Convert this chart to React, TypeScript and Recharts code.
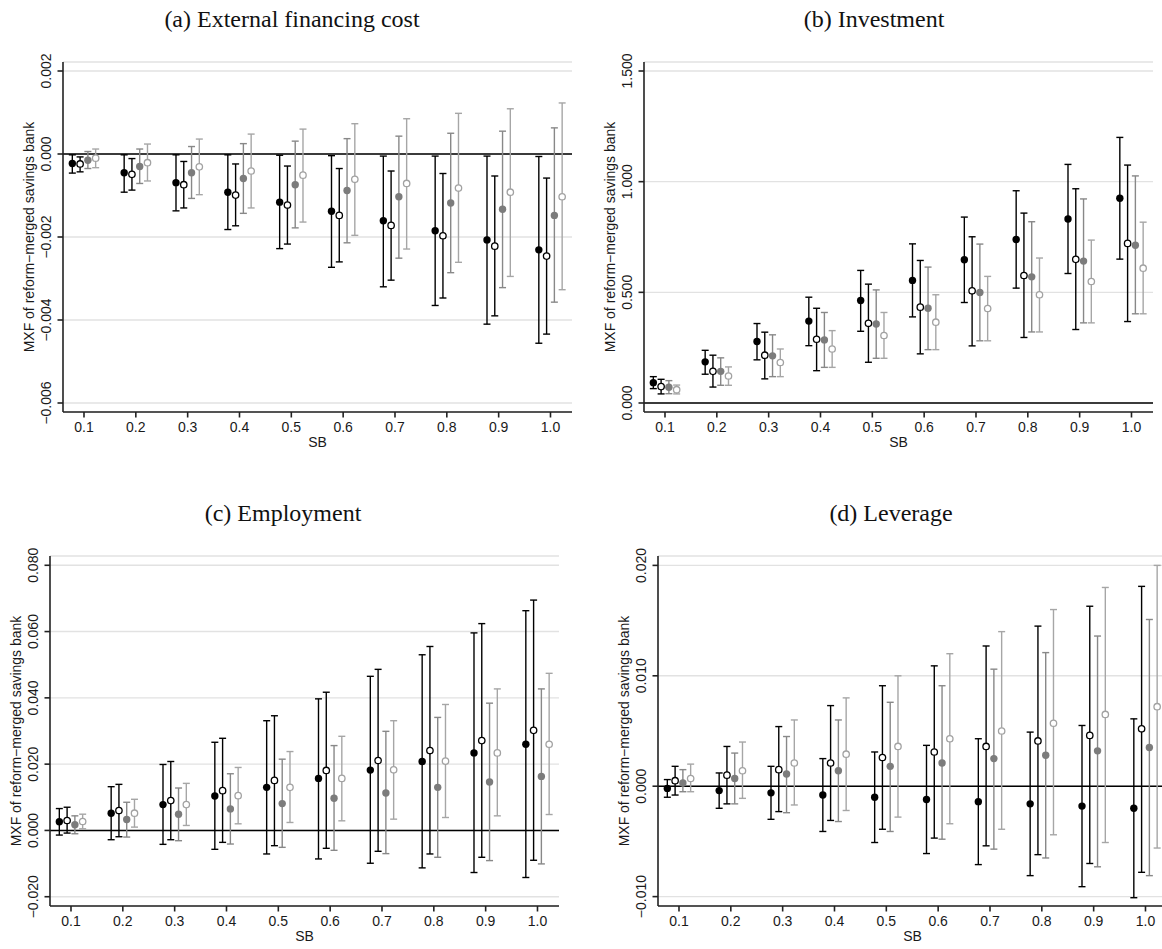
import React from 'react';
import { ComposedChart, Scatter, ErrorBar, XAxis, YAxis, CartesianGrid, ReferenceLine } from 'recharts';

// SB share categories on the x axis
const SB = [0.1, 0.2, 0.3, 0.4, 0.5, 0.6, 0.7, 0.8, 0.9, 1.0];
// horizontal dodge of the four estimates around each SB value
const OFFSETS = [-0.0225, -0.0075, 0.0075, 0.0225];

// (a) External financing cost: rows = black filled, black hollow, gray filled, light hollow
const costEst = [
    [-0.00023, -0.00045, -0.00069, -0.00092, -0.00116, -0.00138, -0.00161, -0.00185, -0.00207, -0.00231],
    [-0.00024, -0.00049, -0.00074, -0.00099, -0.00123, -0.00148, -0.00172, -0.00197, -0.00222, -0.00246],
    [-0.00015, -0.0003, -0.00045, -0.00059, -0.00074, -0.00088, -0.00103, -0.00118, -0.00133, -0.00148],
    [-0.0001, -0.00021, -0.00031, -0.00041, -0.00051, -0.00061, -0.00071, -0.00082, -0.00092, -0.00103],
];
const costLo = [
    [-0.00046, -0.00092, -0.00137, -0.00182, -0.00228, -0.00273, -0.0032, -0.00365, -0.0041, -0.00456],
    [-0.00043, -0.00087, -0.0013, -0.00173, -0.00217, -0.0026, -0.00304, -0.00347, -0.0039, -0.00434],
    [-0.00035, -0.00071, -0.00107, -0.00143, -0.00178, -0.00214, -0.00251, -0.00286, -0.00322, -0.00357],
    [-0.00033, -0.00065, -0.00098, -0.0013, -0.00164, -0.00196, -0.00229, -0.00261, -0.00295, -0.00327],
];
const costHi = [
    [-0.00002, -0.00002, -0.00002, -0.00002, -0.00003, -0.00004, -0.00005, -0.00005, -0.00005, -0.00006],
    [-0.00007, -0.00011, -0.00018, -0.00024, -0.00029, -0.00035, -0.00041, -0.00047, -0.00053, -0.00058],
    [0.00006, 0.00012, 0.00018, 0.00025, 0.00031, 0.00037, 0.00043, 0.0005, 0.00055, 0.00063],
    [0.00012, 0.00024, 0.00036, 0.00048, 0.0006, 0.00073, 0.00085, 0.00098, 0.00109, 0.00123],
];

// (b) Investment
const invEst = [
    [0.092, 0.186, 0.278, 0.37, 0.463, 0.554, 0.647, 0.739, 0.831, 0.925],
    [0.074, 0.143, 0.216, 0.288, 0.36, 0.433, 0.507, 0.576, 0.649, 0.721],
    [0.071, 0.143, 0.213, 0.285, 0.357, 0.428, 0.499, 0.57, 0.641, 0.713],
    [0.06, 0.122, 0.183, 0.244, 0.305, 0.365, 0.427, 0.489, 0.549, 0.609],
];
const invLo = [
    [0.065, 0.13, 0.195, 0.259, 0.324, 0.389, 0.454, 0.519, 0.585, 0.65],
    [0.041, 0.072, 0.109, 0.146, 0.184, 0.222, 0.258, 0.296, 0.332, 0.368],
    [0.042, 0.08, 0.119, 0.161, 0.202, 0.241, 0.281, 0.321, 0.362, 0.403],
    [0.041, 0.08, 0.119, 0.161, 0.202, 0.241, 0.281, 0.321, 0.362, 0.403],
];
const invHi = [
    [0.119, 0.238, 0.359, 0.478, 0.599, 0.719, 0.84, 0.959, 1.078, 1.2],
    [0.107, 0.216, 0.32, 0.428, 0.537, 0.644, 0.751, 0.858, 0.968, 1.075],
    [0.101, 0.204, 0.308, 0.409, 0.511, 0.614, 0.718, 0.819, 0.922, 1.026],
    [0.081, 0.163, 0.244, 0.327, 0.409, 0.489, 0.572, 0.655, 0.736, 0.817],
];

// (c) Employment
const empEst = [
    [0.0026, 0.0052, 0.0078, 0.0104, 0.013, 0.0157, 0.0182, 0.0208, 0.0234, 0.026],
    [0.003, 0.006, 0.009, 0.012, 0.0151, 0.0181, 0.0211, 0.0241, 0.0271, 0.0302],
    [0.0017, 0.0033, 0.0049, 0.0065, 0.0081, 0.0097, 0.0113, 0.013, 0.0146, 0.0163],
    [0.0027, 0.0052, 0.0078, 0.0105, 0.013, 0.0157, 0.0183, 0.0209, 0.0234, 0.026],
];
const empLo = [
    [-0.0014, -0.0028, -0.0042, -0.0057, -0.0071, -0.0086, -0.0099, -0.0113, -0.0127, -0.0142],
    [-0.0008, -0.0019, -0.0028, -0.0036, -0.0046, -0.0054, -0.0063, -0.0071, -0.0081, -0.009],
    [-0.001, -0.002, -0.0031, -0.0041, -0.0051, -0.006, -0.007, -0.0081, -0.0091, -0.0101],
    [0.0005, 0.001, 0.0015, 0.002, 0.0024, 0.0029, 0.0034, 0.0039, 0.0044, 0.0048],
];
const empHi = [
    [0.0066, 0.0132, 0.0199, 0.0266, 0.0331, 0.0397, 0.0465, 0.053, 0.0596, 0.0663],
    [0.007, 0.0139, 0.0208, 0.0278, 0.0346, 0.0417, 0.0486, 0.0555, 0.0624, 0.0695],
    [0.0044, 0.0085, 0.0128, 0.0171, 0.0215, 0.0256, 0.0299, 0.0341, 0.0384, 0.0427],
    [0.0049, 0.0094, 0.0142, 0.019, 0.0238, 0.0284, 0.0331, 0.038, 0.0427, 0.0474],
];

// (d) Leverage
const levEst = [
    [-0.0002, -0.0004, -0.0006, -0.0008, -0.001, -0.0012, -0.0014, -0.0016, -0.0018, -0.002],
    [0.0005, 0.001, 0.0015, 0.0021, 0.0026, 0.0031, 0.0036, 0.0041, 0.0046, 0.0052],
    [0.0003, 0.0007, 0.0011, 0.0014, 0.0018, 0.0021, 0.0025, 0.0028, 0.0032, 0.0035],
    [0.0007, 0.0014, 0.0021, 0.0029, 0.0036, 0.0043, 0.005, 0.0057, 0.0065, 0.0072],
];
const levLo = [
    [-0.001, -0.002, -0.003, -0.0041, -0.0051, -0.0061, -0.0071, -0.0081, -0.0091, -0.0101],
    [-0.0008, -0.0016, -0.0023, -0.0031, -0.0039, -0.0047, -0.0054, -0.0062, -0.007, -0.0078],
    [-0.0005, -0.0016, -0.0024, -0.0032, -0.0041, -0.0048, -0.0057, -0.0065, -0.0073, -0.0081],
    [-0.0005, -0.0011, -0.0017, -0.0022, -0.0028, -0.0034, -0.0039, -0.0044, -0.0051, -0.0056],
];
const levHi = [
    [0.0006, 0.0012, 0.0018, 0.0025, 0.0031, 0.0037, 0.0043, 0.0049, 0.0055, 0.0061],
    [0.0018, 0.0036, 0.0054, 0.0073, 0.0091, 0.0109, 0.0127, 0.0145, 0.0163, 0.0181],
    [0.0015, 0.003, 0.0045, 0.006, 0.0076, 0.0091, 0.0106, 0.0121, 0.0136, 0.0151],
    [0.002, 0.004, 0.006, 0.008, 0.01, 0.012, 0.014, 0.016, 0.018, 0.02],
];

const costTicks = [-0.006, -0.004, -0.002, 0, 0.002];
const invTicks = [0, 0.5, 1.0, 1.5];
const empTicks = [-0.02, 0, 0.02, 0.04, 0.06, 0.08];
const levTicks = [-0.01, 0, 0.01, 0.02];

const X_DOMAIN = [0.0595, 1.0415];
const SANS = '"Liberation Sans", Arial, sans-serif';
const SERIF = '"Liberation Serif", "Times New Roman", serif';
const INK = '#1a1a1a';
const TOP = 22;
const BOX_H = 350;

const MARKS = [
    { fill: '#000000', stroke: '#000000', bar: '#000000', r: 3.7, sw: 0 },
    { fill: '#ffffff', stroke: '#000000', bar: '#000000', r: 3.2, sw: 1.3 },
    { fill: '#7c7c7c', stroke: '#7c7c7c', bar: '#888888', r: 3.7, sw: 0 },
    { fill: '#ffffff', stroke: '#a2a2a2', bar: '#a6a6a6', r: 3.2, sw: 1.3 },
];

const fmt3 = (v: number) => {
    const s = Math.abs(v).toFixed(3);
    return v < -1e-9 ? '\u2212' + s : s;
};

const XTick = (props: any) => (
    <text x={props.x} y={props.y} textAnchor="middle" dominantBaseline="central" fontSize={14} fontFamily={SANS} fill={INK}>
        {Number(props.payload.value).toFixed(1)}
    </text>
);

const YTick = (props: any) => (
    <text
        x={props.x}
        y={props.y}
        transform={`rotate(-90, ${props.x}, ${props.y})`}
        textAnchor="middle"
        dominantBaseline="central"
        fontSize={14}
        fontFamily={SANS}
        fill={INK}
    >
        {fmt3(props.payload.value)}
    </text>
);

interface PanelProps {
    left: number;
    top: number;
    width: number;
    height: number;
    yWidth: number;
    marginRight: number;
    title: string;
    titleX: number;
    domain: number[];
    ticks: number[];
    est: number[][];
    lo: number[][];
    hi: number[][];
}

function Panel({ left, top, width, height, yWidth, marginRight, title, titleX, domain, ticks, est, lo, hi }: PanelProps) {
    const boxW = width - yWidth - marginRight;
    const xHeight = height - TOP - BOX_H;
    const series = est.map((row, s) =>
        SB.map((sb, i) => ({ x: sb + OFFSETS[s], y: row[i], err: [row[i] - lo[s][i], hi[s][i] - row[i]] }))
    );

    const yLabel = () => (
        <text
            x={yWidth - 34}
            y={TOP + BOX_H / 2}
            transform={`rotate(-90, ${yWidth - 34}, ${TOP + BOX_H / 2})`}
            textAnchor="middle"
            dominantBaseline="central"
            fontSize={14}
            fontFamily={SANS}
            fill={INK}
        >
            MXF of reform−merged savings bank
        </text>
    );
    const xLabel = () => (
        <text x={yWidth + boxW / 2} y={TOP + BOX_H + 29.5} textAnchor="middle" dominantBaseline="central" fontSize={14} fontFamily={SANS} fill={INK}>
            SB
        </text>
    );

    return (
        <div style={{ position: 'absolute', left, top, width, height }}>
            <div
                style={{
                    position: 'absolute',
                    left: titleX - 250,
                    width: 500,
                    top: -36,
                    height: 30,
                    lineHeight: '30px',
                    textAlign: 'center',
                    fontFamily: SERIF,
                    fontSize: 24,
                    color: '#111',
                }}
            >
                {title}
            </div>
            <ComposedChart width={width} height={height} margin={{ top: TOP, right: marginRight, bottom: 0, left: 0 }}>
                <CartesianGrid vertical={false} stroke="#e2e2e2" strokeWidth={1.4} />
                <XAxis
                    dataKey="x"
                    type="number"
                    domain={X_DOMAIN}
                    ticks={SB}
                    interval={0}
                    allowDataOverflow
                    height={xHeight}
                    tickSize={5.5}
                    tickMargin={9.2}
                    tick={<XTick />}
                    stroke="#222"
                    strokeWidth={1.6}
                    label={xLabel}
                />
                <XAxis xAxisId="top" orientation="top" dataKey="x" type="number" domain={X_DOMAIN} allowDataOverflow height={0} tick={false} tickLine={false} stroke="#222" strokeWidth={1.6} />
                <YAxis
                    dataKey="y"
                    type="number"
                    domain={domain}
                    ticks={ticks}
                    interval={0}
                    allowDataOverflow
                    width={yWidth}
                    tickSize={5.5}
                    tickMargin={11.5}
                    tick={<YTick />}
                    stroke="#222"
                    strokeWidth={1.6}
                    label={yLabel}
                />
                <YAxis yAxisId="right" orientation="right" type="number" domain={domain} allowDataOverflow width={0} tick={false} tickLine={false} stroke="#222" strokeWidth={1.6} />
                <ReferenceLine y={0} stroke="#000" strokeWidth={1.5} />
                {series.map((data, s) => {
                    const m = MARKS[s];
                    return (
                        <Scatter
                            key={s}
                            data={data}
                            dataKey="y"
                            isAnimationActive={false}
                            shape={(p: any) => <circle cx={p.cx} cy={p.cy} r={m.r} fill={m.fill} stroke={m.stroke} strokeWidth={m.sw} />}
                        >
                            <ErrorBar dataKey="err" direction="y" width={3.5} stroke={m.bar} strokeWidth={1.4} isAnimationActive={false} />
                        </Scatter>
                    );
                })}
            </ComposedChart>
        </div>
    );
}

export default function App() {
    return (
        <div style={{ position: 'absolute', left: 0, top: 0, width: 1162, height: 949, overflow: 'hidden', background: '#fff' }}>
            <Panel
                left={0} top={40} width={580} height={420} yWidth={63} marginRight={8}
                title="(a) External financing cost" titleX={292}
                domain={[-0.006217, 0.002217]} ticks={costTicks}
                est={costEst} lo={costLo} hi={costHi}
            />
            <Panel
                left={582} top={40} width={580} height={420} yWidth={62} marginRight={9}
                title="(b) Investment" titleX={292}
                domain={[-0.0407, 1.5407]} ticks={invTicks}
                est={invEst} lo={invLo} hi={invHi}
            />
            <Panel
                left={0} top={534} width={580} height={415} yWidth={50} marginRight={21}
                title="(c) Employment" titleX={283}
                domain={[-0.0228, 0.0828]} ticks={empTicks}
                est={empEst} lo={empLo} hi={empHi}
            />
            <Panel
                left={582} top={534} width={600} height={415} yWidth={76} marginRight={15}
                title="(d) Leverage" titleX={309}
                domain={[-0.01085, 0.02085]} ticks={levTicks}
                est={levEst} lo={levLo} hi={levHi}
            />
        </div>
    );
}
